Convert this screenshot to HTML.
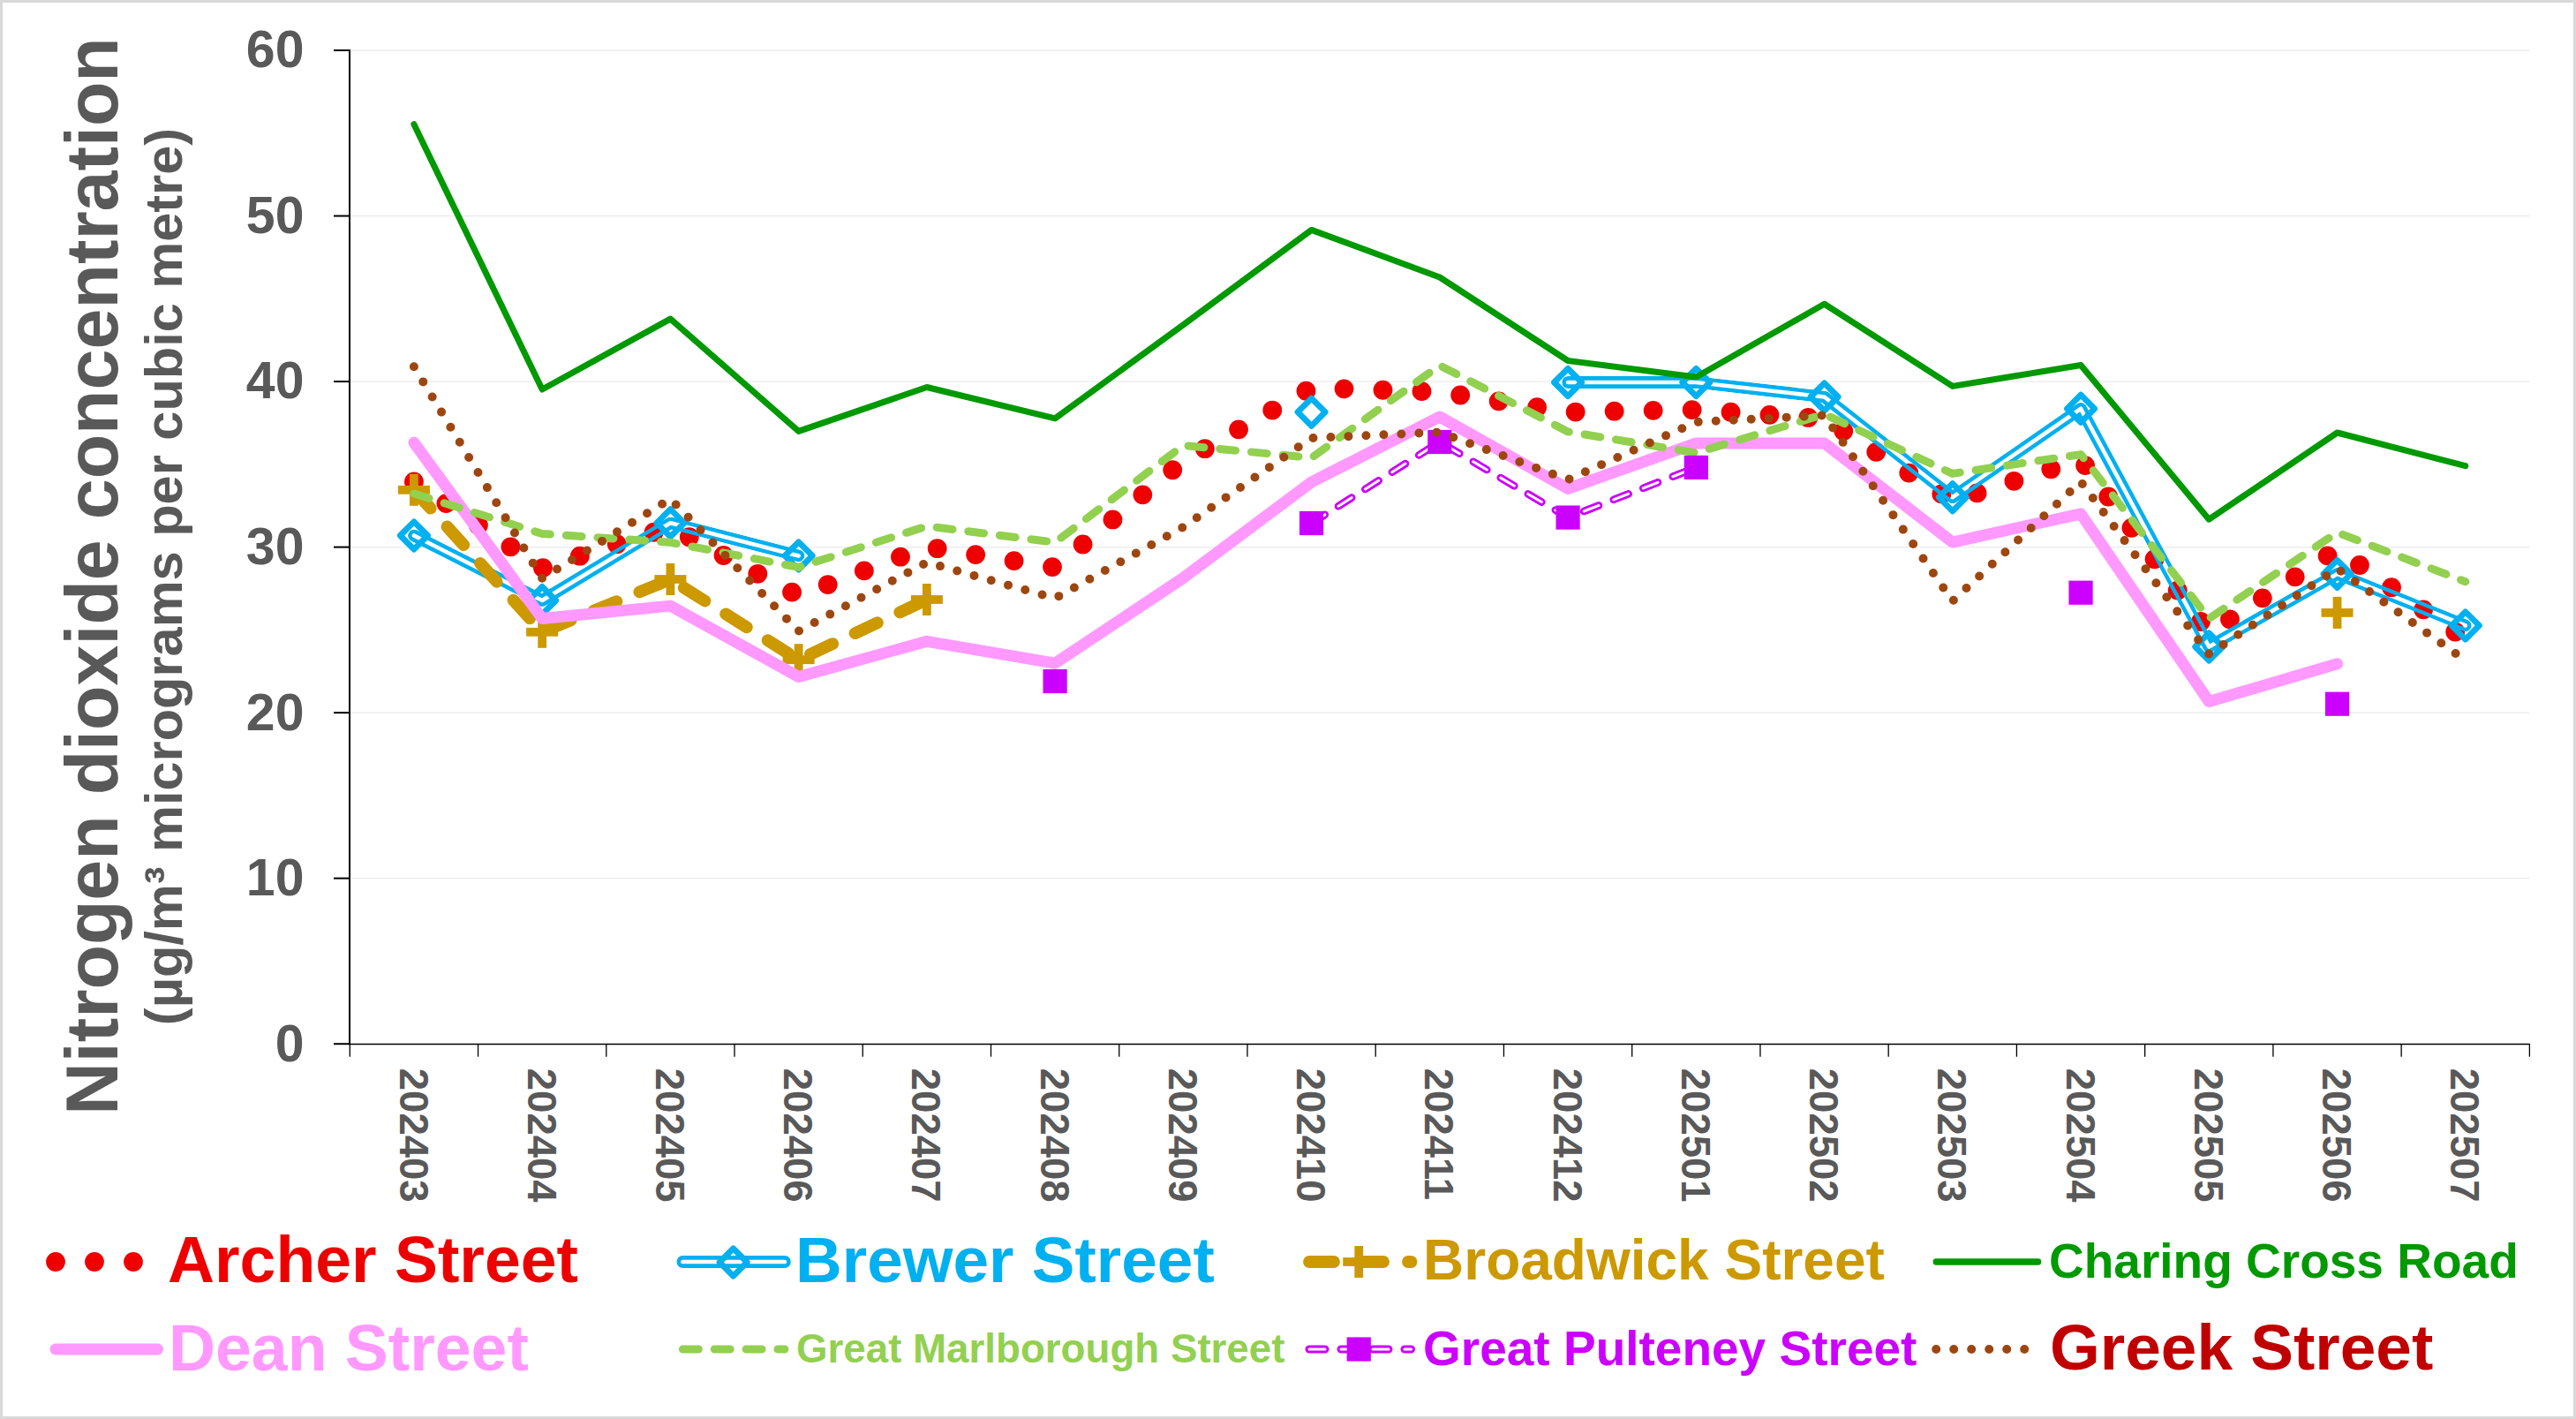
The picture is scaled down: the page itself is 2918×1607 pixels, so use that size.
<!DOCTYPE html><html><head><meta charset="utf-8"><title>NO2 chart</title>
<style>html,body{margin:0;padding:0;background:#fff;}svg{display:block;}text{font-family:"Liberation Sans", Arial, sans-serif;font-weight:bold;}</style></head><body>
<svg width="2918" height="1607" viewBox="0 0 2918 1607">
<defs>
<mask id="mBa" maskUnits="userSpaceOnUse" x="0" y="0" width="2918" height="1607"><rect x="0" y="0" width="2918" height="1607" fill="black"/><path d="M468.92 606.50 L614.16 680.00 L759.40 592.30 L904.64 629.40" fill="none" stroke="white" stroke-width="13.80" stroke-linecap="round" stroke-linejoin="round"/><path d="M468.92 606.50 L614.16 680.00 L759.40 592.30 L904.64 629.40" fill="none" stroke="black" stroke-width="4.60" stroke-linecap="round" stroke-linejoin="round"/></mask>
<mask id="mBb" maskUnits="userSpaceOnUse" x="0" y="0" width="2918" height="1607"><rect x="0" y="0" width="2918" height="1607" fill="black"/><path d="M1776.08 433.00 L1921.32 433.00 L2066.56 449.50 L2211.80 563.20 L2357.04 462.80 L2502.28 732.50 L2647.52 649.90 L2792.76 708.40" fill="none" stroke="white" stroke-width="13.80" stroke-linecap="round" stroke-linejoin="round"/><path d="M1776.08 433.00 L1921.32 433.00 L2066.56 449.50 L2211.80 563.20 L2357.04 462.80 L2502.28 732.50 L2647.52 649.90 L2792.76 708.40" fill="none" stroke="black" stroke-width="4.60" stroke-linecap="round" stroke-linejoin="round"/></mask>
<mask id="mPa" maskUnits="userSpaceOnUse" x="0" y="0" width="2918" height="1607"><rect x="0" y="0" width="2918" height="1607" fill="black"/><path d="M1485.60 592.50 L1630.84 500.50 L1776.08 586.10 L1921.32 529.40" fill="none" stroke="white" stroke-width="9.00" stroke-linecap="round" stroke-linejoin="round" stroke-dasharray="18 18"/><path d="M1485.60 592.50 L1630.84 500.50 L1776.08 586.10 L1921.32 529.40" fill="none" stroke="black" stroke-width="3.00" stroke-linecap="round" stroke-linejoin="round" stroke-dasharray="18 18"/></mask>
</defs>
<rect x="1.5" y="1.5" width="2915" height="1604" fill="#FFFFFF" stroke="#D9D9D9" stroke-width="3"/>
<line x1="397.30" y1="994.67" x2="2865.38" y2="994.67" stroke="#EBEBEB" stroke-width="1.4"/>
<line x1="397.30" y1="807.14" x2="2865.38" y2="807.14" stroke="#EBEBEB" stroke-width="1.4"/>
<line x1="397.30" y1="619.61" x2="2865.38" y2="619.61" stroke="#EBEBEB" stroke-width="1.4"/>
<line x1="397.30" y1="432.08" x2="2865.38" y2="432.08" stroke="#EBEBEB" stroke-width="1.4"/>
<line x1="397.30" y1="244.55" x2="2865.38" y2="244.55" stroke="#EBEBEB" stroke-width="1.4"/>
<line x1="397.30" y1="57.02" x2="2865.38" y2="57.02" stroke="#EBEBEB" stroke-width="1.4"/>
<line x1="396.30" y1="1182.50" x2="2866.08" y2="1182.50" stroke="#000" stroke-width="1.5"/>
<line x1="396.30" y1="1182.20" x2="396.30" y2="1196.70" stroke="#000" stroke-width="1.3"/>
<line x1="541.54" y1="1182.20" x2="541.54" y2="1196.70" stroke="#000" stroke-width="1.3"/>
<line x1="686.78" y1="1182.20" x2="686.78" y2="1196.70" stroke="#000" stroke-width="1.3"/>
<line x1="832.02" y1="1182.20" x2="832.02" y2="1196.70" stroke="#000" stroke-width="1.3"/>
<line x1="977.26" y1="1182.20" x2="977.26" y2="1196.70" stroke="#000" stroke-width="1.3"/>
<line x1="1122.50" y1="1182.20" x2="1122.50" y2="1196.70" stroke="#000" stroke-width="1.3"/>
<line x1="1267.74" y1="1182.20" x2="1267.74" y2="1196.70" stroke="#000" stroke-width="1.3"/>
<line x1="1412.98" y1="1182.20" x2="1412.98" y2="1196.70" stroke="#000" stroke-width="1.3"/>
<line x1="1558.22" y1="1182.20" x2="1558.22" y2="1196.70" stroke="#000" stroke-width="1.3"/>
<line x1="1703.46" y1="1182.20" x2="1703.46" y2="1196.70" stroke="#000" stroke-width="1.3"/>
<line x1="1848.70" y1="1182.20" x2="1848.70" y2="1196.70" stroke="#000" stroke-width="1.3"/>
<line x1="1993.94" y1="1182.20" x2="1993.94" y2="1196.70" stroke="#000" stroke-width="1.3"/>
<line x1="2139.18" y1="1182.20" x2="2139.18" y2="1196.70" stroke="#000" stroke-width="1.3"/>
<line x1="2284.42" y1="1182.20" x2="2284.42" y2="1196.70" stroke="#000" stroke-width="1.3"/>
<line x1="2429.66" y1="1182.20" x2="2429.66" y2="1196.70" stroke="#000" stroke-width="1.3"/>
<line x1="2574.90" y1="1182.20" x2="2574.90" y2="1196.70" stroke="#000" stroke-width="1.3"/>
<line x1="2720.14" y1="1182.20" x2="2720.14" y2="1196.70" stroke="#000" stroke-width="1.3"/>
<line x1="2865.38" y1="1182.20" x2="2865.38" y2="1196.70" stroke="#000" stroke-width="1.3"/>
<line x1="396" y1="56" x2="396" y2="1183.20" stroke="#000" stroke-width="2"/>
<line x1="378" y1="1182.20" x2="397" y2="1182.20" stroke="#000" stroke-width="2"/>
<line x1="378" y1="994.67" x2="397" y2="994.67" stroke="#000" stroke-width="2"/>
<line x1="378" y1="807.14" x2="397" y2="807.14" stroke="#000" stroke-width="2"/>
<line x1="378" y1="619.61" x2="397" y2="619.61" stroke="#000" stroke-width="2"/>
<line x1="378" y1="432.08" x2="397" y2="432.08" stroke="#000" stroke-width="2"/>
<line x1="378" y1="244.55" x2="397" y2="244.55" stroke="#000" stroke-width="2"/>
<line x1="378" y1="57.02" x2="397" y2="57.02" stroke="#000" stroke-width="2"/>
<text x="344.5" y="1201.60" font-size="59" fill="#595959" text-anchor="end">0</text>
<text x="344.5" y="1014.07" font-size="59" fill="#595959" text-anchor="end">10</text>
<text x="344.5" y="826.54" font-size="59" fill="#595959" text-anchor="end">20</text>
<text x="344.5" y="639.01" font-size="59" fill="#595959" text-anchor="end">30</text>
<text x="344.5" y="451.48" font-size="59" fill="#595959" text-anchor="end">40</text>
<text x="344.5" y="263.95" font-size="59" fill="#595959" text-anchor="end">50</text>
<text x="344.5" y="76.42" font-size="59" fill="#595959" text-anchor="end">60</text>
<text transform="translate(452.52 1209.8) rotate(90)" font-size="45.5" fill="#595959">202403</text>
<text transform="translate(597.76 1209.8) rotate(90)" font-size="45.5" fill="#595959">202404</text>
<text transform="translate(743.00 1209.8) rotate(90)" font-size="45.5" fill="#595959">202405</text>
<text transform="translate(888.24 1209.8) rotate(90)" font-size="45.5" fill="#595959">202406</text>
<text transform="translate(1033.48 1209.8) rotate(90)" font-size="45.5" fill="#595959">202407</text>
<text transform="translate(1178.72 1209.8) rotate(90)" font-size="45.5" fill="#595959">202408</text>
<text transform="translate(1323.96 1209.8) rotate(90)" font-size="45.5" fill="#595959">202409</text>
<text transform="translate(1469.20 1209.8) rotate(90)" font-size="45.5" fill="#595959">202410</text>
<text transform="translate(1614.44 1209.8) rotate(90)" font-size="45.5" fill="#595959">202411</text>
<text transform="translate(1759.68 1209.8) rotate(90)" font-size="45.5" fill="#595959">202412</text>
<text transform="translate(1904.92 1209.8) rotate(90)" font-size="45.5" fill="#595959">202501</text>
<text transform="translate(2050.16 1209.8) rotate(90)" font-size="45.5" fill="#595959">202502</text>
<text transform="translate(2195.40 1209.8) rotate(90)" font-size="45.5" fill="#595959">202503</text>
<text transform="translate(2340.64 1209.8) rotate(90)" font-size="45.5" fill="#595959">202504</text>
<text transform="translate(2485.88 1209.8) rotate(90)" font-size="45.5" fill="#595959">202505</text>
<text transform="translate(2631.12 1209.8) rotate(90)" font-size="45.5" fill="#595959">202506</text>
<text transform="translate(2776.36 1209.8) rotate(90)" font-size="45.5" fill="#595959">202507</text>
<text transform="translate(133 652.5) rotate(-90)" font-size="82.6" fill="#595959" text-anchor="middle">Nitrogen dioxide concentration</text>
<text transform="translate(206 653) rotate(-90)" font-size="59.5" fill="#595959" text-anchor="middle">(µg/m³ micrograms per cubic metre)</text>
<path d="M468.92 545.50 L614.16 643.40 L759.40 596.70 L904.64 674.70 L1049.88 619.30 L1195.12 642.60 L1340.36 522.20 L1485.60 439.20 L1630.84 443.80 L1776.08 466.70 L1921.32 464.00 L2066.56 474.20 L2211.80 567.40 L2357.04 520.30 L2502.28 716.70 L2647.52 622.30 L2792.76 723.60" fill="none" stroke="#EE0000" stroke-width="21.80" stroke-linecap="round" stroke-linejoin="round" stroke-dasharray="0 44.00"/>
<g mask="url(#mBa)"><path d="M468.92 606.50 L614.16 680.00 L759.40 592.30 L904.64 629.40" fill="none" stroke="#00B0F0" stroke-width="13.80" stroke-linecap="round" stroke-linejoin="round"/></g>
<g mask="url(#mBb)"><path d="M1776.08 433.00 L1921.32 433.00 L2066.56 449.50 L2211.80 563.20 L2357.04 462.80 L2502.28 732.50 L2647.52 649.90 L2792.76 708.40" fill="none" stroke="#00B0F0" stroke-width="13.80" stroke-linecap="round" stroke-linejoin="round"/></g>
<path d="M468.92 590.90 L484.52 606.50 L468.92 622.10 L453.32 606.50 Z" fill="none" stroke="#00B0F0" stroke-width="6.80" stroke-linejoin="round"/>
<path d="M614.16 664.40 L629.76 680.00 L614.16 695.60 L598.56 680.00 Z" fill="none" stroke="#00B0F0" stroke-width="6.80" stroke-linejoin="round"/>
<path d="M759.40 576.70 L775.00 592.30 L759.40 607.90 L743.80 592.30 Z" fill="none" stroke="#00B0F0" stroke-width="6.80" stroke-linejoin="round"/>
<path d="M904.64 613.80 L920.24 629.40 L904.64 645.00 L889.04 629.40 Z" fill="none" stroke="#00B0F0" stroke-width="6.80" stroke-linejoin="round"/>
<path d="M1485.60 451.10 L1501.20 466.70 L1485.60 482.30 L1470.00 466.70 Z" fill="none" stroke="#00B0F0" stroke-width="6.80" stroke-linejoin="round"/>
<path d="M1776.08 417.40 L1791.68 433.00 L1776.08 448.60 L1760.48 433.00 Z" fill="none" stroke="#00B0F0" stroke-width="6.80" stroke-linejoin="round"/>
<path d="M1921.32 417.40 L1936.92 433.00 L1921.32 448.60 L1905.72 433.00 Z" fill="none" stroke="#00B0F0" stroke-width="6.80" stroke-linejoin="round"/>
<path d="M2066.56 433.90 L2082.16 449.50 L2066.56 465.10 L2050.96 449.50 Z" fill="none" stroke="#00B0F0" stroke-width="6.80" stroke-linejoin="round"/>
<path d="M2211.80 547.60 L2227.40 563.20 L2211.80 578.80 L2196.20 563.20 Z" fill="none" stroke="#00B0F0" stroke-width="6.80" stroke-linejoin="round"/>
<path d="M2357.04 447.20 L2372.64 462.80 L2357.04 478.40 L2341.44 462.80 Z" fill="none" stroke="#00B0F0" stroke-width="6.80" stroke-linejoin="round"/>
<path d="M2502.28 716.90 L2517.88 732.50 L2502.28 748.10 L2486.68 732.50 Z" fill="none" stroke="#00B0F0" stroke-width="6.80" stroke-linejoin="round"/>
<path d="M2647.52 634.30 L2663.12 649.90 L2647.52 665.50 L2631.92 649.90 Z" fill="none" stroke="#00B0F0" stroke-width="6.80" stroke-linejoin="round"/>
<path d="M2792.76 692.80 L2808.36 708.40 L2792.76 724.00 L2777.16 708.40 Z" fill="none" stroke="#00B0F0" stroke-width="6.80" stroke-linejoin="round"/>
<path d="M468.92 554.80 L614.16 715.80 L759.40 656.00 L904.64 747.20 L1049.88 679.00" fill="none" stroke="#CC9900" stroke-width="13.80" stroke-linecap="round" stroke-linejoin="round" stroke-dasharray="28.00 28.00"/>
<rect x="450.92" y="549.90" width="36.00" height="9.80" fill="#CC9900"/><rect x="464.02" y="536.80" width="9.80" height="36.00" fill="#CC9900"/>
<rect x="596.16" y="710.90" width="36.00" height="9.80" fill="#CC9900"/><rect x="609.26" y="697.80" width="9.80" height="36.00" fill="#CC9900"/>
<rect x="741.40" y="651.10" width="36.00" height="9.80" fill="#CC9900"/><rect x="754.50" y="638.00" width="9.80" height="36.00" fill="#CC9900"/>
<rect x="886.64" y="742.30" width="36.00" height="9.80" fill="#CC9900"/><rect x="899.74" y="729.20" width="9.80" height="36.00" fill="#CC9900"/>
<rect x="1031.88" y="674.10" width="36.00" height="9.80" fill="#CC9900"/><rect x="1044.98" y="661.00" width="9.80" height="36.00" fill="#CC9900"/>
<rect x="2629.52" y="689.00" width="36.00" height="9.80" fill="#CC9900"/><rect x="2642.62" y="675.90" width="9.80" height="36.00" fill="#CC9900"/>
<path d="M468.92 140.70 L614.16 441.00 L759.40 361.10 L904.64 488.40 L1049.88 438.50 L1195.12 473.80 L1340.36 367.90 L1485.60 260.40 L1630.84 314.00 L1776.08 408.50 L1921.32 427.00 L2066.56 344.30 L2211.80 437.40 L2357.04 413.50 L2502.28 588.20 L2647.52 490.00 L2792.76 527.70" fill="none" stroke="#009900" stroke-width="7.00" stroke-linecap="round" stroke-linejoin="round"/>
<path d="M468.92 501.20 L614.16 700.50 L759.40 686.10 L904.64 766.50 L1049.88 726.30 L1195.12 751.20 L1340.36 654.50 L1485.60 546.00 L1630.84 472.00 L1776.08 553.40 L1921.32 501.90 L2066.56 501.90 L2211.80 614.10 L2357.04 581.80 L2502.28 794.50 L2647.52 751.80" fill="none" stroke="#FF99FF" stroke-width="13.00" stroke-linecap="round" stroke-linejoin="round"/>
<path d="M468.92 559.00 L614.16 604.50 L759.40 614.20 L904.64 642.40 L1049.88 595.90 L1195.12 614.20 L1340.36 504.40 L1485.60 518.50 L1630.84 413.80 L1776.08 488.90 L1921.32 512.80 L2066.56 469.10 L2211.80 536.40 L2357.04 514.60 L2502.28 700.60 L2647.52 603.00 L2792.76 658.70" fill="none" stroke="#92D050" stroke-width="9.00" stroke-linecap="round" stroke-linejoin="round" stroke-dasharray="17.93 17.93"/>
<g mask="url(#mPa)"><path d="M1485.60 592.50 L1630.84 500.50 L1776.08 586.10 L1921.32 529.40" fill="none" stroke="#CC00FF" stroke-width="9.00" stroke-linecap="round" stroke-linejoin="round" stroke-dasharray="18 18"/></g>
<rect x="1472.00" y="578.90" width="27.20" height="27.20" fill="#CC00FF"/>
<rect x="1617.24" y="486.90" width="27.20" height="27.20" fill="#CC00FF"/>
<rect x="1762.48" y="572.50" width="27.20" height="27.20" fill="#CC00FF"/>
<rect x="1907.72" y="515.80" width="27.20" height="27.20" fill="#CC00FF"/>
<rect x="1181.52" y="757.90" width="27.20" height="27.20" fill="#CC00FF"/>
<rect x="2343.44" y="657.60" width="27.20" height="27.20" fill="#CC00FF"/>
<rect x="2633.92" y="783.60" width="27.20" height="27.20" fill="#CC00FF"/>
<path d="M468.92 415.30 L614.16 654.90 L759.40 565.00 L904.64 714.70 L1049.88 636.90 L1195.12 677.50 L1340.36 596.90 L1485.60 496.00 L1630.84 489.50 L1776.08 543.20 L1921.32 478.00 L2066.56 470.40 L2211.80 680.70 L2357.04 545.50 L2502.28 740.80 L2647.52 643.80 L2792.76 748.00" fill="none" stroke="#9E4610" stroke-width="10.00" stroke-linecap="round" stroke-linejoin="round" stroke-dasharray="0 20.00"/>
<path d="M63.00 1429.00 L178.50 1429.00" fill="none" stroke="#EE0000" stroke-width="21.80" stroke-linecap="round" stroke-linejoin="round" stroke-dasharray="0 44.00"/>
<text x="190" y="1452" font-size="73.4" fill="#EE0000">Archer Street</text>
<path d="M773.40 1429.00 L888.90 1429.00" fill="none" stroke="#00B0F0" stroke-width="13.80" stroke-linecap="round" stroke-linejoin="round"/>
<path d="M773.40 1429.00 L888.90 1429.00" fill="none" stroke="#FFFFFF" stroke-width="4.60" stroke-linecap="round" stroke-linejoin="round"/>
<path d="M830.65 1413.90 L846.25 1429.50 L830.65 1445.10 L815.05 1429.50 Z" fill="none" stroke="#00B0F0" stroke-width="6.80" stroke-linejoin="round"/>
<text x="901" y="1452" font-size="73" fill="#00B0F0">Brewer Street</text>
<path d="M1483.00 1429.00 L1598.50 1429.00" fill="none" stroke="#CC9900" stroke-width="13.80" stroke-linecap="round" stroke-linejoin="round" stroke-dasharray="28.00 28.00"/>
<rect x="1521.25" y="1424.10" width="36.00" height="9.80" fill="#CC9900"/><rect x="1534.35" y="1411.00" width="9.80" height="36.00" fill="#CC9900"/>
<text x="1612" y="1449.4" font-size="64" fill="#CC9900">Broadwick Street</text>
<path d="M2193.20 1429.00 L2308.70 1429.00" fill="none" stroke="#009900" stroke-width="7.30" stroke-linecap="round" stroke-linejoin="round"/>
<text x="2321" y="1446.6" font-size="55" fill="#009900">Charing Cross Road</text>
<path d="M63.00 1528.00 L178.50 1528.00" fill="none" stroke="#FF99FF" stroke-width="13.00" stroke-linecap="round" stroke-linejoin="round"/>
<text x="191" y="1551.5" font-size="73.4" fill="#FF99FF">Dean Street</text>
<path d="M773.40 1528.00 L888.90 1528.00" fill="none" stroke="#92D050" stroke-width="9.00" stroke-linecap="round" stroke-linejoin="round" stroke-dasharray="17.93 17.93"/>
<text x="902" y="1542.6" font-size="45.7" fill="#92D050">Great Marlborough Street</text>
<path d="M1483.00 1528.00 L1598.50 1528.00" fill="none" stroke="#CC00FF" stroke-width="9.00" stroke-linecap="round" stroke-linejoin="round" stroke-dasharray="18 18"/>
<path d="M1483.00 1528.00 L1598.50 1528.00" fill="none" stroke="#FFFFFF" stroke-width="3.00" stroke-linecap="round" stroke-linejoin="round" stroke-dasharray="18 18"/>
<rect x="1525.65" y="1514.40" width="27.20" height="27.20" fill="#CC00FF"/>
<text x="1612" y="1545.7" font-size="55" fill="#CC00FF">Great Pulteney Street</text>
<path d="M2193.20 1528.00 L2308.70 1528.00" fill="none" stroke="#9E4610" stroke-width="10.00" stroke-linecap="round" stroke-linejoin="round" stroke-dasharray="0 20.00"/>
<text x="2322" y="1551" font-size="73" fill="#C00000">Greek Street</text>
</svg></body></html>
